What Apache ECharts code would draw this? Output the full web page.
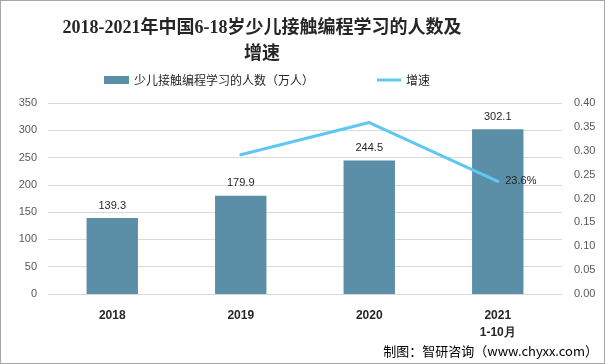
<!DOCTYPE html>
<html><head><meta charset="utf-8">
<script src="https://cdn.jsdelivr.net/npm/echarts@6/dist/echarts.min.js"></script>
<style>html,body{margin:0;padding:0;background:#fff}#c{width:605px;height:364px;box-sizing:border-box;border:1px solid #a6a6a6}</style>
</head><body><div id="c"></div>
<script>
var categories = ['2018', '2019', '2020', '2021\n1-10月'];
var learners = [139.3, 179.9, 244.5, 302.1];
var growth = [null, 0.2915, 0.359, 0.236];
var leftTicks = [0, 350, 50];
var rightTicks = [0, 0.4, 0.05];

var chart = echarts.init(document.getElementById('c'), null, {renderer: 'canvas'});
chart.setOption({
  animation: false,
  title: {
    text: '2018-2021年中国6-18岁少儿接触编程学习的人数及\n增速',
    left: 256, textAlign: 'center', top: 9,
    textStyle: {fontFamily: 'Liberation Serif, Noto Sans CJK SC', fontWeight: 'bold', fontSize: 18, color: '#262626', lineHeight: 26}
  },
  legend: [{
    top: 68, left: 98, itemWidth: 25, itemHeight: 8,
    textStyle: {fontSize: 12, color: '#262626', fontFamily: 'Noto Sans CJK SC'},
    data: [{name: '少儿接触编程学习的人数（万人）', icon: 'rect'}]
  }, {
    top: 68, left: 371, itemWidth: 24, itemHeight: 3,
    textStyle: {fontSize: 12, color: '#262626', fontFamily: 'Noto Sans CJK SC'},
    data: [{name: '增速', icon: 'rect', itemStyle: {color: '#5ec8f2', opacity: 1}}]
  }],
  graphic: [{type: 'text', right: 6, bottom: 5, style: {text: '制图：智研咨询（www.chyxx.com）', fontSize: 13, fill: '#000', fontFamily: 'Noto Sans CJK SC'}}],
  grid: {left: 47, right: 42, top: 102, bottom: 69},
  xAxis: {
    type: 'category', data: categories,
    axisLine: {lineStyle: {color: '#d9d9d9'}}, axisTick: {show: false},
    axisLabel: {fontWeight: 'bold', fontSize: 12, color: '#262626', margin: 13, lineHeight: 17}
  },
  yAxis: [{
    type: 'value', min: leftTicks[0], max: leftTicks[1], interval: leftTicks[2],
    axisLine: {show: false}, axisTick: {show: false},
    splitLine: {lineStyle: {color: '#d9d9d9'}},
    axisLabel: {color: '#595959', fontSize: 11, margin: 11}
  }, {
    type: 'value', min: rightTicks[0], max: rightTicks[1], interval: rightTicks[2],
    axisLine: {show: false}, axisTick: {show: false}, splitLine: {show: false},
    axisLabel: {color: '#595959', fontSize: 11, margin: 12, formatter: function (v) { return v.toFixed(2); }}
  }],
  series: [{
    name: '少儿接触编程学习的人数（万人）', type: 'bar', data: learners, barWidth: '40%',
    itemStyle: {color: '#5b8fa8'},
    label: {show: true, position: 'top', color: '#262626', fontSize: 11, distance: 7}
  }, {
    name: '增速', type: 'line', yAxisIndex: 1, data: growth,
    symbol: 'circle', symbolSize: 3, showSymbol: true,
    lineStyle: {color: '#5ec8f2', width: 3}, itemStyle: {color: '#5ec8f2'},
    label: {show: true, position: 'right', color: '#262626', fontSize: 11, distance: 6,
      formatter: function (p) { return p.dataIndex === 3 ? (p.value * 100).toFixed(1) + '%' : ''; }}
  }]
});
</script></body></html>
